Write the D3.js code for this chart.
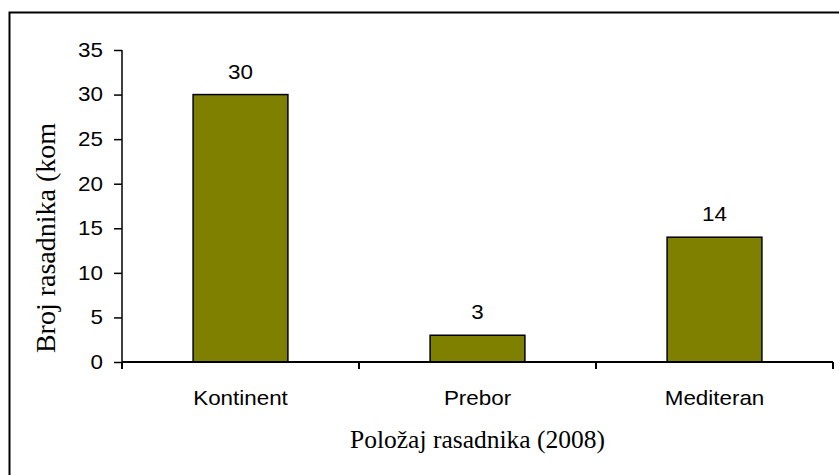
<!DOCTYPE html>
<meta charset="utf-8">
<head>
    <script src="https://d3js.org/d3.v7.min.js"></script>
    <style>
      body { margin: 0; background: #fff; }
      text { font-family: Arial, "Liberation Sans", sans-serif; }
    </style>
</head>
<html>
    <body>
        <div id="chart"></div>
    </body>
</html>
<script>
    // data
    const categories = ["Kontinent", "Prebor", "Mediteran"];
    const values = [30, 3, 14];
    const yTicks = [0, 5, 10, 15, 20, 25, 30, 35];
    const xTitle = "Položaj rasadnika (2008)";
    const yTitle = "Broj rasadnika (kom";

    const W = 839, H = 475;
    const margin = {top: 50, right: 6, bottom: 113, left: 122};
    const width = W - margin.left - margin.right,
          height = H - margin.top - margin.bottom;
    const sx = 1.12;   // the sans text in the picture is a bit stretched sideways

    const svg = d3.select("#chart")
      .append("svg")
        .attr("width", W)
        .attr("height", H);

    // outer frame (runs off the right and bottom edge)
    svg.append("rect")
      .attr("x", 9.5).attr("y", 12.5)
      .attr("width", W).attr("height", H)
      .style("fill", "none")
      .style("stroke", "#000")
      .style("stroke-width", 2);

    const g = svg.append("g")
      .attr("transform", `translate(${margin.left},${margin.top})`);

    const x = d3.scaleBand()
      .domain(categories)
      .range([0, width])
      .paddingInner(0.6)
      .paddingOuter(0.3);

    const y = d3.scaleLinear()
      .domain([0, 35])
      .range([height, 0]);

    // bars
    g.selectAll("rect.bar")
      .data(values)
      .join("rect")
        .attr("class", "bar")
        .attr("x", (d, i) => x(categories[i]))
        .attr("y", d => y(d))
        .attr("width", x.bandwidth())
        .attr("height", d => height - y(d))
        .style("fill", "#808000")
        .style("stroke", "#000")
        .style("stroke-width", 1.5);

    // value labels
    g.selectAll("text.val")
      .data(values)
      .join("text")
        .attr("class", "val")
        .attr("transform", (d, i) =>
          `translate(${x(categories[i]) + x.bandwidth() / 2},${y(d) - 16}) scale(${sx},1)`)
        .style("text-anchor", "middle")
        .style("font-size", "20px")
        .text(d => d);

    // y axis
    const yAxis = g.append("g")
      .call(d3.axisLeft(y).tickValues(yTicks).tickSize(8));
    yAxis.selectAll("text")
      .attr("x", -19 / sx)
      .attr("transform", `scale(${sx},1)`)
      .attr("font-family", null)
      .style("font-size", "20px").style("fill", "#000");
    yAxis.select(".domain").attr("d", `M0,${height + 0.5}V0`).style("stroke-width", 1.5);
    yAxis.selectAll(".tick line").style("stroke-width", 1.5);

    // x axis: ticks sit at the category borders
    const xb = d3.scaleLinear().domain([0, categories.length]).range([0, width]);
    const xAxis = g.append("g")
      .attr("transform", `translate(0,${height})`);
    xAxis.append("line")
      .attr("x1", 0).attr("x2", width)
      .style("stroke", "#000").style("stroke-width", 2);
    xAxis.selectAll("line.tk")
      .data(d3.range(categories.length + 1))
      .join("line")
        .attr("class", "tk")
        .attr("x1", d => xb(d)).attr("x2", d => xb(d))
        .attr("y1", 0).attr("y2", 7)
        .style("stroke", "#000").style("stroke-width", 2);
    xAxis.selectAll("text.cat")
      .data(categories)
      .join("text")
        .attr("class", "cat")
        .attr("transform", d => `translate(${x(d) + x.bandwidth() / 2},43) scale(${sx},1)`)
        .style("text-anchor", "middle")
        .style("font-size", "20px")
        .text(d => d);

    // axis titles
    svg.append("text")
      .attr("x", margin.left + width / 2)
      .attr("y", 448)
      .style("text-anchor", "middle")
      .style("font-family", "'Times New Roman', 'Liberation Serif', serif")
      .style("font-size", "25.5px")
      .text(xTitle);

    svg.append("text")
      .attr("transform", "translate(55,238) rotate(-90)")
      .style("text-anchor", "middle")
      .style("font-family", "'Times New Roman', 'Liberation Serif', serif")
      .style("font-size", "28px")
      .text(yTitle);
</script>
